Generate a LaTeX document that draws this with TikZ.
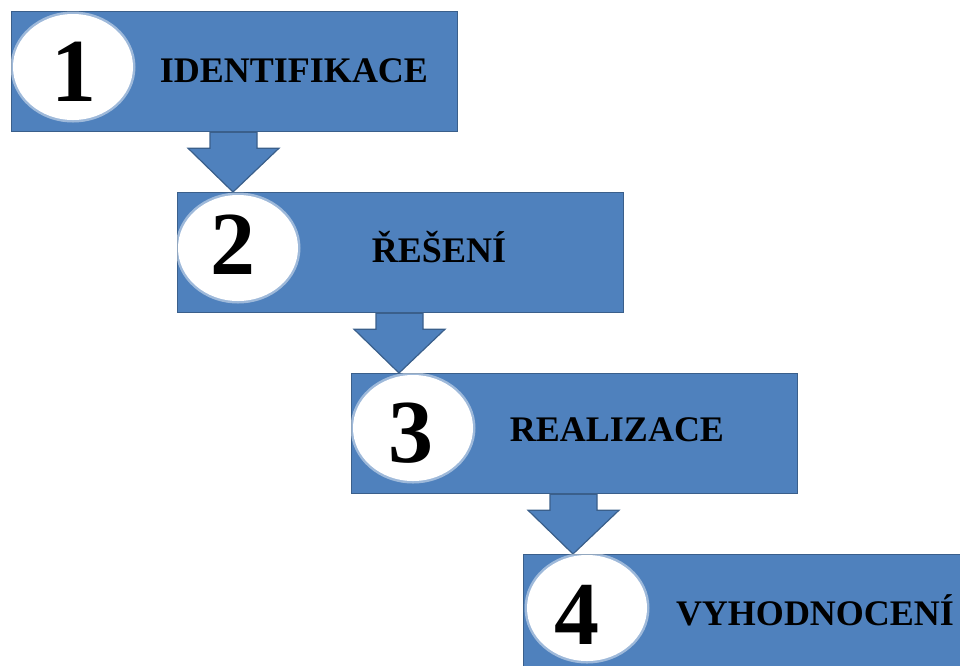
\documentclass[tikz,border=0pt]{standalone}
\usepackage{fontspec}
\setmainfont{Liberation Serif}
\usetikzlibrary{shapes.geometric,calc}
\definecolor{stepblue}{HTML}{4F81BD}
\definecolor{stepedge}{HTML}{3A5F8B}

\begin{document}
\begin{tikzpicture}[x=1pt,y=-1pt,
  stagebox/.style={rectangle, draw=stepedge, line width=1.2pt, fill=stepblue,
    minimum width=446pt, minimum height=120pt, anchor=north west, inner sep=0pt},
  badge/.style={ellipse, fill=white, minimum width=120pt, minimum height=106pt, inner sep=0pt},
  badgeglow/.style={ellipse, fill=white, opacity=0.45, minimum width=125pt, minimum height=111pt, inner sep=0pt},
  numtext/.style={anchor=base, font=\fontsize{90}{90}\selectfont\bfseries, inner sep=0pt},
  labeltext/.style={anchor=base, font=\fontsize{36}{36}\selectfont\bfseries, inner sep=0pt},
  flow/.style={fill=stepblue, draw=stepedge, line width=1.2pt, line join=miter}]

\useasboundingbox (0,0) rectangle (960,665);
\clip (0,0) rectangle (960,665);

% stage boxes
\node[stagebox] (b1) at (11,11)   {};
\node[stagebox] (b2) at (177,192) {};
\node[stagebox] (b3) at (351,373) {};
\node[stagebox] (b4) at (523,554) {};

% block arrows between consecutive stages
\foreach \a/\b in {b1/b2, b2/b3, b3/b4}{
  \coordinate (tip-\a) at ($(\a.south west)+(222,0)$);
  \draw[flow] ($(\a.south west)+(199,0)$) -- ++(0,16) -- ++(-22,0)
    -- (tip-\a |- \b.north) -- ($(\a.south west)+(268,16)$)
    -- ++(-22,0) -- ($(\a.south west)+(246,0)$) -- cycle;
}

% numbered badges
\foreach \n/\x/\y in {1/73/67, 2/238/248, 3/413/428, 4/587/608}{
  \node[badgeglow] at (\x,\y) {};
  \node[badge] (e\n) at (\x,\y) {};
}
\node[numtext] (n1) at (74,101)  {1};
\node[numtext] (n2) at (233,274) {2};
\node[numtext] (n3) at (411,462) {3};
\node[numtext] (n4) at (577,644) {4};

% stage titles
\node[labeltext] (t1) at (294,82)  {IDENTIFIKACE};
\node[labeltext] (t2) at (439,262) {ŘEŠENÍ};
\node[labeltext] (t3) at (617,441) {REALIZACE};
\node[labeltext] (t4) at (815,625) {VYHODNOCENÍ};
\end{tikzpicture}
\end{document}
